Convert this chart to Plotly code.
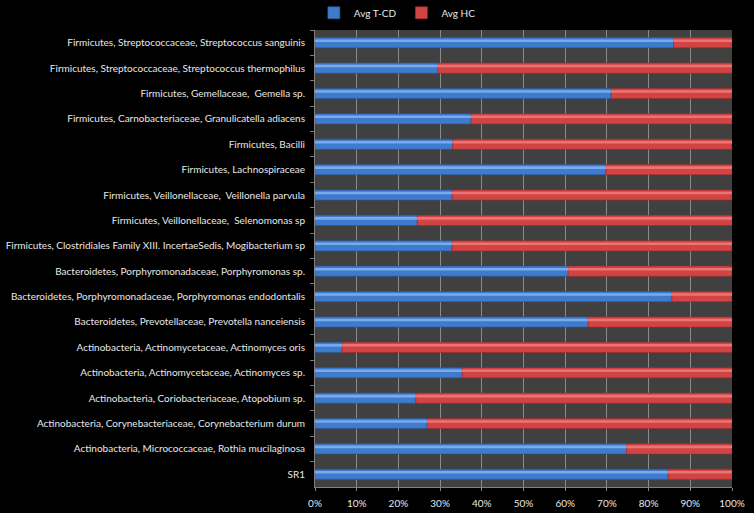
import plotly.graph_objects as go

categories = [
    "Firmicutes, Streptococcaceae, Streptococcus sanguinis",
    "Firmicutes, Streptococcaceae, Streptococcus thermophilus",
    "Firmicutes, Gemellaceae,  Gemella sp.",
    "Firmicutes, Carnobacteriaceae, Granulicatella adiacens",
    "Firmicutes, Bacilli",
    "Firmicutes, Lachnospiraceae",
    "Firmicutes, Veillonellaceae,  Veillonella parvula",
    "Firmicutes, Veillonellaceae,  Selenomonas sp",
    "Firmicutes, Clostridiales Family XIII. IncertaeSedis, Mogibacterium sp",
    "Bacteroidetes, Porphyromonadaceae, Porphyromonas sp.",
    "Bacteroidetes, Porphyromonadaceae, Porphyromonas endodontalis",
    "Bacteroidetes, Prevotellaceae, Prevotella nanceiensis",
    "Actinobacteria, Actinomycetaceae, Actinomyces oris",
    "Actinobacteria, Actinomycetaceae, Actinomyces sp.",
    "Actinobacteria, Coriobacteriaceae, Atopobium sp.",
    "Actinobacteria, Corynebacteriaceae, Corynebacterium durum",
    "Actinobacteria, Micrococcaceae, Rothia mucilaginosa",
    "SR1",
]
avg_tcd = [86.0, 29.5, 71.0, 37.4, 33.0, 69.8, 32.9, 24.5, 32.9, 60.7,
           85.6, 65.5, 6.5, 35.3, 24.2, 26.9, 74.7, 84.7]
avg_hc = [100 - v for v in avg_tcd]

x_ticks = [0, 10, 20, 30, 40, 50, 60, 70, 80, 90, 100]
x_labels = [f"{t}%" for t in x_ticks]

txt = "#e8e8e8"
font = dict(family="Lato, 'Open Sans', sans-serif", size=10, color=txt)

fig = go.Figure()
fig.add_trace(go.Bar(
    name="Avg T-CD", y=categories, x=avg_tcd, orientation="h",
    width=0.4, offset=-0.2,
    marker=dict(color="#3f7bcc", line=dict(color="#2a5598", width=0.6)),
))
fig.add_trace(go.Bar(
    name="Avg HC", y=categories, x=avg_hc, base=avg_tcd, orientation="h",
    width=0.4, offset=-0.2,
    marker=dict(color="#d24343", line=dict(color="#9c2c2c", width=0.6)),
))
# glossy highlight stripes
fig.add_trace(go.Bar(
    y=categories, x=avg_tcd, orientation="h", width=0.1, offset=-0.13,
    marker=dict(color="#78aaec", line=dict(width=0)), showlegend=False,
    hoverinfo="skip",
))
fig.add_trace(go.Bar(
    y=categories, x=avg_hc, base=avg_tcd, orientation="h", width=0.1, offset=-0.13,
    marker=dict(color="#ea7474", line=dict(width=0)), showlegend=False,
    hoverinfo="skip",
))

fig.update_layout(
    width=754, height=513,
    barmode="overlay",
    paper_bgcolor="black", plot_bgcolor="#404040",
    margin=dict(l=315, r=22, t=30, b=26, autoexpand=False),
    font=font,
    showlegend=True,
    legend=dict(orientation="h", xref="container", yref="container",
                x=0.527, y=0.975, xanchor="center", yanchor="middle",
                font=dict(size=10, color=txt), bgcolor="rgba(0,0,0,0)",
                itemwidth=30, traceorder="normal"),
)
fig.update_xaxes(
    range=[0, 100], tickvals=x_ticks, ticktext=x_labels,
    tickfont=dict(color=txt, size=10), ticklabelstandoff=4,
    showgrid=True, gridcolor="#8a8a8a", gridwidth=1,
    showline=True, linecolor="#808080", ticks="outside", ticklen=3,
    tickcolor="#808080", zeroline=False, fixedrange=True, automargin=False,
)
fig.update_yaxes(
    autorange="reversed", showgrid=False, tickfont=dict(color=txt, size=10),
    ticklabelstandoff=7,
    showline=True, linecolor="#808080", ticks="outside", ticklen=4,
    tickcolor="#808080", tickson="boundaries", fixedrange=True, automargin=False,
)

fig.write_html(
    "out.html",
    config={"displayModeBar": False},
    post_script="document.body.style.margin='0';document.body.style.background='black';",
)
